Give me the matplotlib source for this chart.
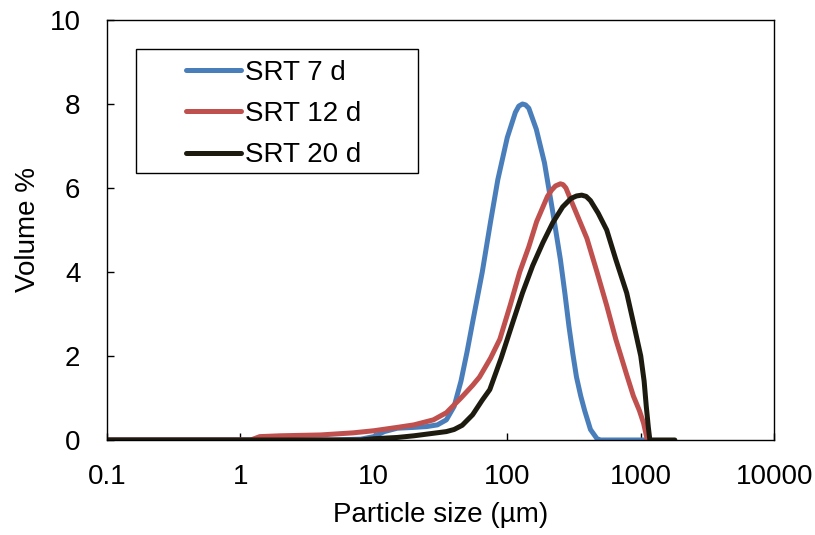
import matplotlib
matplotlib.use("Agg")
import matplotlib.pyplot as plt
from matplotlib.patches import Rectangle

# particle size distributions
x_7 = [0.1, 1, 5, 8, 10, 12, 15, 20, 25, 30, 35, 40, 45, 50, 55, 65, 75, 85,
       100, 115, 122, 130, 137, 145, 165, 190, 220, 250, 270, 290, 310, 330,
       355, 380, 420, 470, 500, 1000, 1150]
y_7 = [0, 0, 0, 0.02, 0.08, 0.2, 0.28, 0.3, 0.32, 0.36, 0.48, 0.8, 1.4, 2.1,
       2.8, 4.0, 5.2, 6.2, 7.2, 7.8, 7.95, 8.0, 7.98, 7.9, 7.4, 6.6, 5.4, 4.3,
       3.5, 2.7, 2.05, 1.5, 1.05, 0.7, 0.25, 0.03, 0, 0, 0]

x_12 = [0.1, 1.2, 1.4, 2, 4, 7, 10, 15, 20, 28, 35, 45, 55, 62, 75, 88, 105,
        124, 145, 166, 200, 215, 230, 250, 262, 275, 310, 350, 395, 470, 556,
        650, 785, 880, 977, 1050, 1120]
y_12 = [0, 0, 0.08, 0.1, 0.12, 0.17, 0.22, 0.3, 0.36, 0.48, 0.65, 1.0, 1.3,
        1.5, 1.95, 2.4, 3.2, 4.0, 4.6, 5.2, 5.8, 5.95, 6.05, 6.1, 6.08, 6.0,
        5.6, 5.2, 4.8, 4.0, 3.2, 2.4, 1.55, 1.05, 0.7, 0.4, 0.0]

x_20 = [0.1, 8, 10, 15, 20, 28, 35, 40, 46, 55, 65, 74, 90, 110, 130, 155,
        185, 219, 260, 300, 330, 361, 390, 420, 480, 556, 650, 785, 880, 1000,
        1060, 1100, 1140, 1170, 1800]
y_20 = [0, 0, 0.03, 0.06, 0.1, 0.16, 0.2, 0.25, 0.35, 0.6, 0.95, 1.2, 1.95,
        2.8, 3.5, 4.15, 4.7, 5.17, 5.55, 5.75, 5.81, 5.83, 5.8, 5.7, 5.4, 5.0,
        4.3, 3.5, 2.8, 2.0, 1.4, 0.8, 0.3, 0, 0]

x_ticks = [0.1, 1, 10, 100, 1000, 10000]
x_tick_labels = ["0.1", "1", "10", "100", "1000", "10000"]
y_ticks = [0, 2, 4, 6, 8, 10]


def main():
    plt.rcParams['font.family'] = ['Liberation Sans', 'DejaVu Sans']
    fig = plt.figure(figsize=(8.15, 5.35), dpi=100)
    ax = fig.add_axes([0.131, 0.1776, 0.819, 0.785])

    ax.plot(x_7, y_7, color='#4A7EBB', lw=3.6, label='SRT 7 d',
            solid_capstyle='round', solid_joinstyle='round')
    ax.plot(x_12, y_12, color='#C0504D', lw=3.6, label='SRT 12 d',
            solid_capstyle='round', solid_joinstyle='round')
    ax.plot(x_20, y_20, color='#1D1B10', lw=3.6, label='SRT 20 d',
            solid_capstyle='round', solid_joinstyle='round')

    ax.set_xscale('log')
    ax.set_xlim(0.1, 10000)
    ax.set_ylim(0, 10)
    ax.set_xticks(x_ticks)
    ax.set_xticklabels(x_tick_labels)
    ax.minorticks_off()
    ax.set_yticks(y_ticks)
    ax.tick_params(direction='in', length=5, width=1, labelsize=20)
    ax.tick_params(axis='x', pad=17)
    ax.tick_params(axis='y', pad=19)
    for s in ax.spines.values():
        s.set_linewidth(1)
    ax.set_xlabel('Particle size (µm)', fontsize=20, labelpad=9)
    ax.set_ylabel('Volume %', fontsize=20, labelpad=6)

    ax.legend(loc='upper left', bbox_to_anchor=(0.1184, 0.905),
              frameon=False, fontsize=20, handlelength=1.98,
              handletextpad=0.15, labelspacing=0.55, borderpad=0,
              borderaxespad=0)
    ax.add_patch(Rectangle((0.0435, 0.636), 0.423, 0.295,
                           transform=ax.transAxes, fill=False,
                           edgecolor='black', lw=1, zorder=5))

    fig.savefig('out.png', dpi=100)


if __name__ == "__main__":
    main()
